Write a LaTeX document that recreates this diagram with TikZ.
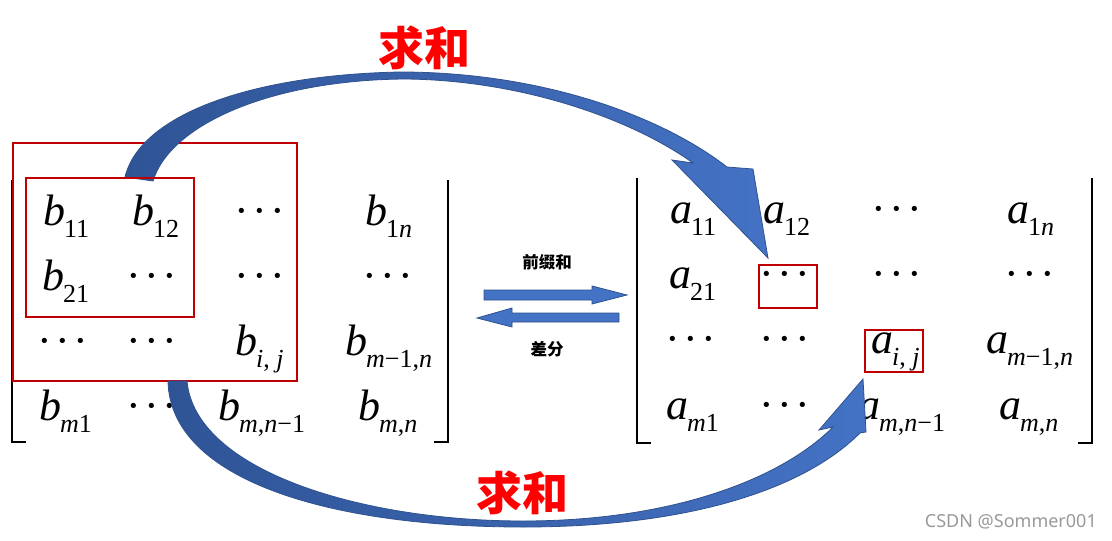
\documentclass[tikz,border=0pt]{standalone}
\usepackage{fontspec}
\setmainfont{Liberation Serif}
\newfontfamily\cjk{Noto Sans CJK SC}
\newfontfamily\wmfont{Noto Sans}
\definecolor{boxred}{RGB}{192,0,0}
\definecolor{adark}{RGB}{47,84,150}
\definecolor{alight}{RGB}{68,114,196}
\definecolor{aedge}{RGB}{47,82,143}
\newcommand{\ent}[2]{{\itshape #1}\kern-1pt\raisebox{-12pt}{\fontsize{26}{26}\selectfont #2}}
\newcommand{\ii}[1]{\textit{#1}}
\newcommand{\dts}{·\kern3.5pt·\kern3.5pt·}
\begin{document}
\begin{tikzpicture}[x=1pt,y=-1pt,
  el/.style={inner sep=0pt, anchor=base west, font=\fontsize{44}{44}\selectfont},
  dt/.style={inner sep=0pt, anchor=base, font=\fontsize{44}{44}\selectfont},
  rbox/.style={draw=boxred, line width=2.4pt},
  brk/.style={line width=1.8pt, draw=black},
  bigarrow/.style={left color=adark, right color=alight, draw=aedge, line width=0.8pt},
  flatarrow/.style={fill=alight, draw=aedge, line width=0.8pt},
  bigtxt/.style={text=red, font=\cjk\bfseries\fontsize{46}{46}\selectfont, inner sep=0pt},
  smalltxt/.style={font=\cjk\bfseries\fontsize{16.5}{16.5}\selectfont, inner sep=0pt}]
\useasboundingbox (0,0) rectangle (1112,541);
\fill[white] (0,0) rectangle (1112,541);

% left matrix
\node[el] (b11) at (43,225) {\ent{b}{11}};
\node[el] (b12) at (132,225) {\ent{b}{12}};
\node[dt] (b13) at (260,225) {\dts};
\node[el] (b14) at (365,225) {\ent{b}{1\ii{n}}};
\node[el] (b21) at (42,290) {\ent{b}{21}};
\node[dt] (b22) at (152,290) {\dts};
\node[dt] (b23) at (260,290) {\dts};
\node[dt] (b24) at (388,290) {\dts};
\node[dt] (b31) at (63,355) {\dts};
\node[dt] (b32) at (152,355) {\dts};
\node[el] (b33) at (235,355) {\ent{b}{\ii{i}, \ii{j}}};
\node[el] (b34) at (345,355) {\ent{b}{\ii{m}−1,\ii{n}}};
\node[el] (b41) at (39,420) {\ent{b}{\ii{m}1}};
\node[dt] (b42) at (152,420) {\dts};
\node[el] (b43) at (218,420) {\ent{b}{\ii{m},\ii{n}−1}};
\node[el] (b44) at (358,420) {\ent{b}{\ii{m},\ii{n}}};
\draw[brk] (26,442) -- (12,442) -- (12,180);
\draw[brk] (434,442) -- (448,442) -- (448,180);

% right matrix
\node[el] (a11) at (670,223) {\ent{a}{11}};
\node[el] (a12) at (763,223) {\ent{a}{12}};
\node[dt] (a13) at (897,223) {\dts};
\node[el] (a14) at (1007,223) {\ent{a}{1\ii{n}}};
\node[el] (a21) at (669,288) {\ent{a}{21}};
\node[dt] (a22) at (785,288) {\dts};
\node[dt] (a23) at (897,288) {\dts};
\node[dt] (a24) at (1030,288) {\dts};
\node[dt] (a31) at (691,353) {\dts};
\node[dt] (a32) at (785,353) {\dts};
\node[el] (a33) at (871,353) {\ent{a}{\ii{i}, \ii{j}}};
\node[el] (a34) at (986,353) {\ent{a}{\ii{m}−1,\ii{n}}};
\node[el] (a41) at (666,419) {\ent{a}{\ii{m}1}};
\node[dt] (a42) at (785,419) {\dts};
\node[el] (a43) at (858,419) {\ent{a}{\ii{m},\ii{n}−1}};
\node[el] (a44) at (999,419) {\ent{a}{\ii{m},\ii{n}}};
\draw[brk] (651,443) -- (637,443) -- (637,178);
\draw[brk] (1078,443) -- (1092,443) -- (1092,178);

% outer red box (under the arrow)
\draw[rbox] (13,143) rectangle (297,381);

% curved arrows
\draw[bigarrow] (125,177) .. controls (140,115) and (250,75) .. (400,72)
  .. controls (540,72) and (660,115) .. (727,167)
  -- (753,169) -- (768,258) -- (672,160) -- (693,163)
  .. controls (630,118) and (520,80) .. (405,79)
  .. controls (270,80) and (170,125) .. (153,181) -- cycle;
\draw[bigarrow] (168,381) .. controls (170,480) and (330,527) .. (523,527)
  .. controls (680,527) and (800,493) .. (860,433)
  -- (866,432) -- (863,379) -- (819,430) -- (833,427)
  .. controls (780,480) and (670,521) .. (523,521)
  .. controls (360,521) and (195,470) .. (187,381) -- cycle;

% other red boxes
\draw[rbox] (26,178) rectangle (194,317);
\draw[rbox] (759,265) rectangle (817,308);
\draw[rbox] (865,330) rectangle (923,372);

% middle arrows
\draw[flatarrow] (484,290) -- (592,290) -- (592,286) -- (627,295) -- (592,304) -- (592,300) -- (484,300) -- cycle;
\draw[flatarrow] (619,313) -- (512,313) -- (512,308) -- (477,318) -- (512,327) -- (512,322) -- (619,322) -- cycle;
\node[smalltxt] (pre) at (547,262) {前缀和};
\node[smalltxt] (diff) at (547,349) {差分};

% labels
\node[bigtxt] (t1) at (424,48) {求和};
\node[bigtxt] (t2) at (522,493) {求和};
\node[anchor=east, text=black!40, font=\wmfont\fontsize{18}{18}\selectfont, inner sep=0pt] (wm) at (1097,522) {CSDN @Sommer001};
\end{tikzpicture}
\end{document}
